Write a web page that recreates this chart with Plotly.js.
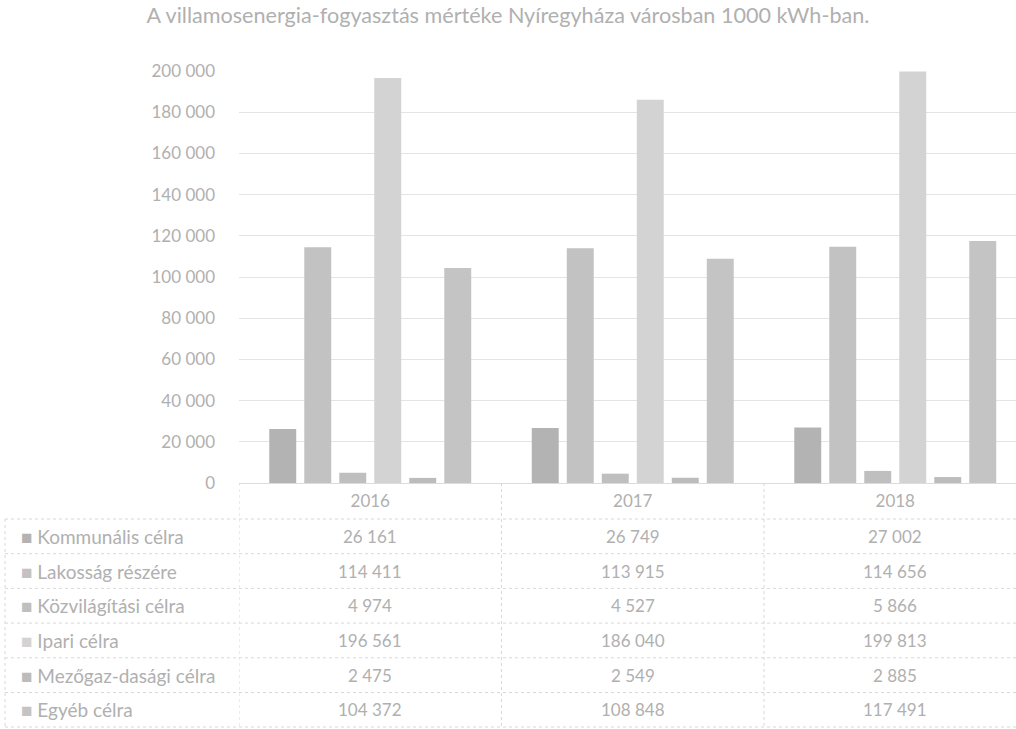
<!DOCTYPE html>
<html>
<head>
<meta charset="utf-8">
<script src="https://cdn.plot.ly/plotly-3.0.1.min.js"></script>
<style>
html,body{margin:0;padding:0;background:#fff;overflow:hidden;}
#chart{width:1016px;height:729px;}
</style>
</head>
<body>
<div id="chart"></div>
<script>
const years = ["2016", "2017", "2018"];
const seriesNames = ["Kommunális célra", "Lakosság részére", "Közvilágítási célra", "Ipari célra", "Mezőgaz-dasági célra", "Egyéb célra"];
const kommunalis = [26161, 26749, 27002];
const lakossag = [114411, 113915, 114656];
const kozvilagitasi = [4974, 4527, 5866];
const ipari = [196561, 186040, 199813];
const mezogazdasagi = [2475, 2549, 2885];
const egyeb = [104372, 108848, 117491];
const seriesValues = [kommunalis, lakossag, kozvilagitasi, ipari, mezogazdasagi, egyeb];
const seriesColors = ["#b3b3b3", "#c2c2c2", "#bfbfbf", "#d3d3d3", "#bcbcbc", "#c4c4c4"];
const yTicks = [0, 20000, 40000, 60000, 80000, 100000, 120000, 140000, 160000, 180000, 200000];

const W = 1016, H = 729;
const M = {l: 239, r: 0, t: 71, b: 246};
const plotW = W - M.l - M.r, plotH = H - M.t - M.b;
const px2paperX = px => (px - M.l) / plotW;
const px2paperY = py => (H - M.b - py) / plotH;

const fontFam = "Lato, 'Open Sans', sans-serif";
const txtColor = "#b0b0b0";
const fmt = v => v.toString().replace(/\B(?=(\d{3})+(?!\d))/g, " ");

const traces = seriesNames.map((name, i) => ({
  type: "bar",
  name: name,
  x: years,
  y: seriesValues[i],
  marker: {color: seriesColors[i], line: {width: 0}},
  hoverinfo: "skip"
}));

// table layout
const rowTop0 = 519, rowH = 34.7, nRows = seriesNames.length;
const annotations = [];
const shapes = [];
seriesNames.forEach((name, r) => {
  const cy = rowTop0 + rowH * (r + 0.5);
  annotations.push({
    xref: "paper", yref: "paper", x: px2paperX(19), y: px2paperY(cy),
    xanchor: "left", yanchor: "middle", showarrow: false,
    text: '<span style="color:' + seriesColors[r] + ';font-size:19px">■</span> ' + name,
    font: {family: fontFam, size: 19, color: txtColor}
  });
  years.forEach((yr, c) => {
    annotations.push({
      xref: "x", yref: "paper", x: c, y: px2paperY(cy),
      xanchor: "center", yanchor: "middle", showarrow: false,
      text: fmt(seriesValues[r][c]),
      font: {family: fontFam, size: 17, color: txtColor}
    });
  });
});
const lineStyle = {color: "#d8d8d8", width: 1, dash: "dot"};
for (let r = 0; r <= nRows; r++) {
  const y = px2paperY(Math.min(rowTop0 + rowH * r, 727));
  shapes.push({type: "line", xref: "paper", yref: "paper", x0: px2paperX(5), x1: 1, y0: y, y1: y, line: lineStyle});
}
// vertical borders
shapes.push({type: "line", xref: "paper", yref: "paper", x0: px2paperX(5), x1: px2paperX(5), y0: px2paperY(rowTop0), y1: px2paperY(727), line: lineStyle});
[-0.5, 0.5, 1.5].forEach(xv => {
  shapes.push({type: "line", xref: "x", yref: "paper", x0: xv, x1: xv, y0: 0, y1: px2paperY(727), line: lineStyle});
});

const layout = {
  width: W, height: H,
  margin: M,
  paper_bgcolor: "#ffffff",
  plot_bgcolor: "#ffffff",
  separators: ", ",
  showlegend: false,
  barmode: "group",
  bargap: 0.2,
  bargroupgap: 0.23,
  title: {
    text: "A villamosenergia-fogyasztás mértéke Nyíregyháza városban 1000 kWh-ban.",
    font: {family: fontFam, size: 21.6, color: "#b0b0b0"},
    x: 0.5, xref: "container", xanchor: "center",
    y: 1 - 15 / H, yref: "container", yanchor: "middle"
  },
  xaxis: {
    type: "category",
    range: [-0.5, -0.5 + plotW / 262.5],
    showgrid: false, zeroline: false, showline: false,
    ticks: "", ticklabelstandoff: 6,
    tickfont: {family: fontFam, size: 17, color: txtColor},
    fixedrange: true
  },
  yaxis: {
    range: [0, 200000],
    tickvals: yTicks,
    tickformat: ",d",
    showgrid: true, gridcolor: "#e4e4e4", gridwidth: 1,
    zeroline: true, zerolinecolor: "#dcdcdc", zerolinewidth: 1,
    showline: false, ticks: "", ticklabelstandoff: 23,
    tickfont: {family: fontFam, size: 17, color: txtColor},
    fixedrange: true
  },
  annotations: annotations,
  shapes: shapes
};

Plotly.newPlot("chart", traces, layout, {displayModeBar: false, staticPlot: true});
</script>
</body>
</html>
